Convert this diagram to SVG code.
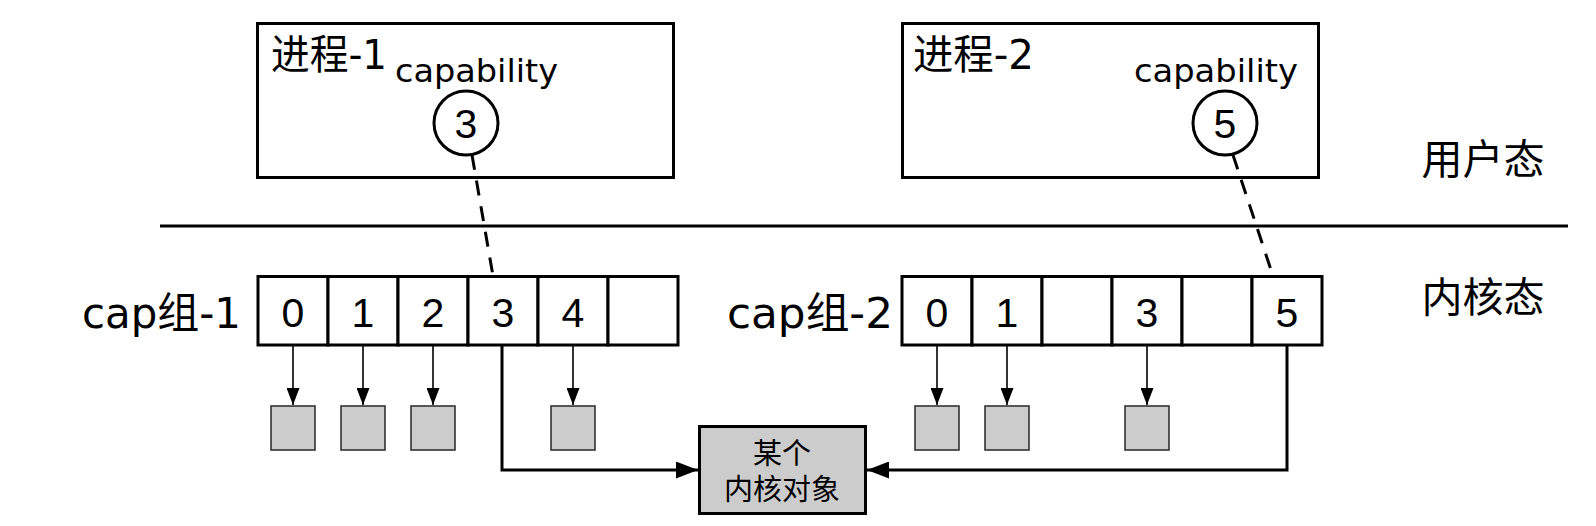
<svg xmlns="http://www.w3.org/2000/svg" width="1596" height="526" viewBox="0 0 1596 526">
<style>
.box{fill:#fff;stroke:#000;stroke-width:3}
.cell{fill:#fff;stroke:#000;stroke-width:3}
.obj{fill:#cccccc;stroke:#333;stroke-width:1.6}
.kobj{fill:#cccccc;stroke:#000;stroke-width:3}
.geo{font-family:"DejaVu Sans","Noto Sans CJK SC",sans-serif;fill:#000}
.cjk{font-family:"Noto Sans CJK SC",sans-serif;fill:#000}
.num{font-family:"Liberation Sans",Arial,sans-serif;font-size:41px;text-anchor:middle;fill:#000}
.thin{stroke:#000;stroke-width:1.6;fill:none}
.thick{stroke:#000;stroke-width:3;fill:none}
.dash{stroke:#000;stroke-width:3;fill:none;stroke-dasharray:15 11}
</style>
<defs>
<marker id="sa" markerUnits="userSpaceOnUse" markerWidth="17" markerHeight="13" refX="17" refY="6.5" orient="auto"><path d="M0,0 L17,6.5 L0,13 z" fill="#000"/></marker>
<marker id="ba" markerUnits="userSpaceOnUse" markerWidth="22" markerHeight="17" refX="22" refY="8.5" orient="auto"><path d="M0,0 L22,8.5 L0,17 z" fill="#000"/></marker>
</defs>
<rect width="1596" height="526" fill="#fff"/>

<g id="process-1">
<rect class="box" x="257.5" y="23.5" width="416" height="154"/>
<text class="geo" x="271" y="69" font-size="41" textLength="116" lengthAdjust="spacingAndGlyphs">进程-1</text>
<text class="geo" x="395" y="82" font-size="32" textLength="163" lengthAdjust="spacingAndGlyphs">capability</text>
<circle class="box" cx="466" cy="123" r="32"/>
<text class="num" x="466" y="138">3</text>
</g>

<g id="process-2">
<rect class="box" x="902.5" y="23.5" width="416" height="154"/>
<text class="geo" x="913" y="69" font-size="41" textLength="121" lengthAdjust="spacingAndGlyphs">进程-2</text>
<text class="geo" x="1134" y="82" font-size="32" textLength="164" lengthAdjust="spacingAndGlyphs">capability</text>
<circle class="box" cx="1225" cy="123" r="32"/>
<text class="num" x="1225" y="138">5</text>
</g>

<g id="divider">
<line x1="160" y1="226" x2="1568" y2="226" stroke="#000" stroke-width="3"/>
<text class="cjk" x="1483" y="174" font-size="41" text-anchor="middle">用户态</text>
<text class="cjk" x="1483" y="312" font-size="41" text-anchor="middle">内核态</text>
</g>

<g id="cap-group-1">
<text class="geo" x="82" y="328" font-size="42" textLength="159" lengthAdjust="spacingAndGlyphs">cap组-1</text>
<rect class="cell" x="258" y="276.5" width="70" height="68.5"/>
<rect class="cell" x="328" y="276.5" width="70" height="68.5"/>
<rect class="cell" x="398" y="276.5" width="70" height="68.5"/>
<rect class="cell" x="468" y="276.5" width="70" height="68.5"/>
<rect class="cell" x="538" y="276.5" width="70" height="68.5"/>
<rect class="cell" x="608" y="276.5" width="70" height="68.5"/>
<text class="num" x="293" y="327">0</text>
<text class="num" x="363" y="327">1</text>
<text class="num" x="433" y="327">2</text>
<text class="num" x="503" y="327">3</text>
<text class="num" x="573" y="327">4</text>
</g>

<g id="cap-group-2">
<text class="geo" x="727" y="328" font-size="42" textLength="166" lengthAdjust="spacingAndGlyphs">cap组-2</text>
<rect class="cell" x="902" y="276.5" width="70" height="68.5"/>
<rect class="cell" x="972" y="276.5" width="70" height="68.5"/>
<rect class="cell" x="1042" y="276.5" width="70" height="68.5"/>
<rect class="cell" x="1112" y="276.5" width="70" height="68.5"/>
<rect class="cell" x="1182" y="276.5" width="70" height="68.5"/>
<rect class="cell" x="1252" y="276.5" width="70" height="68.5"/>
<text class="num" x="937" y="327">0</text>
<text class="num" x="1007" y="327">1</text>
<text class="num" x="1147" y="327">3</text>
<text class="num" x="1287" y="327">5</text>
</g>

<g id="objects-1">
<rect class="obj" x="271" y="406" width="44" height="44"/>
<rect class="obj" x="341" y="406" width="44" height="44"/>
<rect class="obj" x="411" y="406" width="44" height="44"/>
<rect class="obj" x="551" y="406" width="44" height="44"/>
</g>

<g id="objects-2">
<rect class="obj" x="915" y="406" width="44" height="44"/>
<rect class="obj" x="985" y="406" width="44" height="44"/>
<rect class="obj" x="1125" y="406" width="44" height="44"/>
</g>

<g id="kernel-object">
<rect class="kobj" x="699.5" y="426.5" width="166" height="87"/>
<text class="cjk" x="782" y="464" font-size="29" text-anchor="middle">某个</text>
<text class="cjk" x="782" y="500" font-size="29" text-anchor="middle">内核对象</text>
</g>

<g id="connectors">
<line class="dash" x1="472" y1="155" x2="493" y2="276"/>
<line class="dash" x1="1233" y1="155" x2="1273" y2="276"/>
<line class="thin" x1="293" y1="346" x2="293" y2="405" marker-end="url(#sa)"/>
<line class="thin" x1="363" y1="346" x2="363" y2="405" marker-end="url(#sa)"/>
<line class="thin" x1="433" y1="346" x2="433" y2="405" marker-end="url(#sa)"/>
<line class="thin" x1="573" y1="346" x2="573" y2="405" marker-end="url(#sa)"/>
<line class="thin" x1="937" y1="346" x2="937" y2="405" marker-end="url(#sa)"/>
<line class="thin" x1="1007" y1="346" x2="1007" y2="405" marker-end="url(#sa)"/>
<line class="thin" x1="1147" y1="346" x2="1147" y2="405" marker-end="url(#sa)"/>
<polyline class="thick" points="502,346 502,470 698,470" marker-end="url(#ba)"/>
<polyline class="thick" points="1287,346 1287,470 867,470" marker-end="url(#ba)"/>
</g>
</svg>
